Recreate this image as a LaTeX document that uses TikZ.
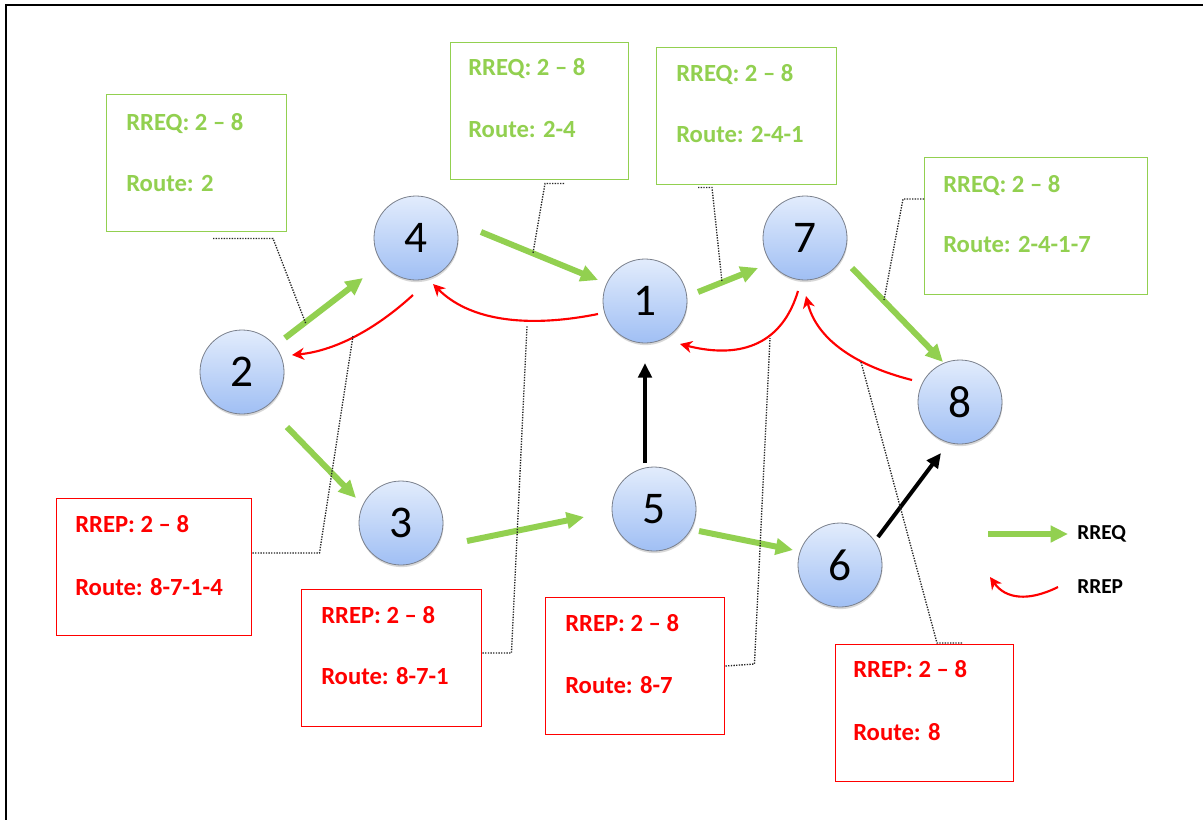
\documentclass[tikz,border=0pt]{standalone}
\usepackage{fontspec}
\setmainfont{Carlito}
\usetikzlibrary{arrows.meta,calc,shadows}
\definecolor{reqgreen}{HTML}{92D050}
\definecolor{repred}{HTML}{FF0000}
\definecolor{nodetop}{HTML}{E2ECFC}
\definecolor{nodebot}{HTML}{A0BFF4}
\definecolor{nodeedge}{HTML}{7A808C}
\tikzset{
  host/.style={circle, minimum size=63pt, inner sep=0pt, draw=nodeedge, line width=0.6pt,
    top color=nodetop, bottom color=nodebot, font=\fontsize{34}{34}\selectfont,
    drop shadow={shadow xshift=0.4pt, shadow yshift=-1.6pt, opacity=0.3}},
  msgbox/.style={line width=1.1pt, minimum height=102.75pt, anchor=north west, inner sep=0pt},
  reqbox/.style={msgbox, draw=reqgreen},
  repbox/.style={msgbox, draw=repred},
  boxtext/.style={anchor=base west, inner sep=0pt, font=\bfseries\fontsize{18.5}{18.5}\selectfont},
  reqtext/.style={boxtext, text=reqgreen},
  reptext/.style={boxtext, text=repred},
  req/.style={draw=reqgreen, line width=4.5pt, -{Triangle[length=13pt,width=12pt]}},
  push/.style={draw=black, line width=3pt, -{Triangle[length=11pt,width=10pt]}},
  rep/.style={draw=repred, line width=1.6pt, -{Stealth[length=9pt,width=9pt,inset=2.8pt]}},
  lead/.style={draw=black!85, line width=1pt, densely dotted},
  legtext/.style={anchor=west, inner sep=0pt, font=\bfseries\fontsize{16}{16}\selectfont},
}
\begin{document}
\begin{tikzpicture}[x=0.75pt,y=-0.75pt]
\useasboundingbox (0,0) rectangle (1203,819);
\fill[white] (0,0) rectangle (1203,819);

% frame
\draw[line width=2.2pt] (6,830) -- (6,5) -- (1210,5);

% hosts
\node[host] (n1) at (645,301) {1};
\node[host] (n2) at (242,372) {2};
\node[host] (n3) at (401,523) {3};
\node[host] (n4) at (416,238) {4};
\node[host] (n5) at (654,509) {5};
\node[host] (n6) at (840,565) {6};
\node[host] (n7) at (805,238) {7};
\node[host] (n8) at (960,402) {8};

% route request flooding
\draw[req] ($(n2)+(43,-34)$) -- ($(n4)+(-53,40)$);
\draw[req] ($(n4)+(65,-6)$) -- ($(n1)+(-47,-21)$);
\draw[req] ($(n1)+(53,-9)$) -- ($(n7)+(-47,30)$);
\draw[req] ($(n7)+(47,30)$) -- ($(n8)+(-17,-40)$);
\draw[req] ($(n2)+(45,55)$) -- ($(n3)+(-45,-25)$);
\draw[req] ($(n3)+(66,18)$) -- ($(n5)+(-70,8)$);
\draw[req] ($(n5)+(45,22)$) -- ($(n6)+(-47,-15)$);

% forwarding toward the destination
\draw[push] ($(n5)+(-9,-46)$) -- ($(n1)+(0,62)$);
\draw[push] ($(n6)+(38,-28)$) -- ($(n8)+(-19,51)$);

% route reply path
\draw[rep] ($(n4)+(-3,57)$) .. controls (373.7,331) and (333.3,351) .. ($(n2)+(50,-17)$);
\draw[rep] ($(n1)+(-47,13)$) .. controls (523,329) and (468,319) .. ($(n4)+(17,46)$);
\draw[rep] ($(n7)+(-7,53)$) .. controls (782.7,342.3) and (743.3,360) .. ($(n1)+(35,43)$);
\draw[rep] ($(n8)+(-48,-22)$) .. controls (851.3,364.7) and (816,336.7) .. ($(n7)+(1,58)$);

% request boxes
\node[reqbox, minimum width=135pt] (g1) at (106,94) {};
\node[reqtext] (g1a) at ($(g1.north west)+(20,36)$) {RREQ: 2 – 8};
\node[reqtext] (g1b) at ($(g1.north west)+(20,97)$) {Route: 2};

\node[reqbox, minimum width=133.5pt] (g2) at (450,42) {};
\node[reqtext] (g2a) at ($(g2.north west)+(18,33)$) {RREQ: 2 – 8};
\node[reqtext] (g2b) at ($(g2.north west)+(18,95)$) {Route: 2-4};

\node[reqbox, minimum width=135pt] (g3) at (656,47) {};
\node[reqtext] (g3a) at ($(g3.north west)+(20,34)$) {RREQ: 2 – 8};
\node[reqtext] (g3b) at ($(g3.north west)+(20,95)$) {Route: 2-4-1};

\node[reqbox, minimum width=167.25pt] (g4) at (924,157) {};
\node[reqtext] (g4a) at ($(g4.north west)+(19,35)$) {RREQ: 2 – 8};
\node[reqtext] (g4b) at ($(g4.north west)+(19,95)$) {Route: 2-4-1-7};

% reply boxes
\node[repbox, minimum width=146.25pt] (r1) at (56,498) {};
\node[reptext] (r1a) at ($(r1.north west)+(19,34)$) {RREP: 2 – 8};
\node[reptext] (r1b) at ($(r1.north west)+(19,97)$) {Route: 8-7-1-4};

\node[repbox, minimum width=135pt] (r2) at (301,589) {};
\node[reptext] (r2a) at ($(r2.north west)+(20,34)$) {RREP: 2 – 8};
\node[reptext] (r2b) at ($(r2.north west)+(20,95)$) {Route: 8-7-1};

\node[repbox, minimum width=134.25pt] (r3) at (545,597) {};
\node[reptext] (r3a) at ($(r3.north west)+(20,34)$) {RREP: 2 – 8};
\node[reptext] (r3b) at ($(r3.north west)+(20,96)$) {Route: 8-7};

\node[repbox, minimum width=133.5pt] (r4) at (835,644) {};
\node[reptext] (r4a) at ($(r4.north west)+(18,33)$) {RREP: 2 – 8};
\node[reptext] (r4b) at ($(r4.north west)+(18,96)$) {Route: 8};

% callout leaders
\coordinate (p1) at (306,324);
\coordinate (p2) at (353,336);
\coordinate (p3) at (533,253);
\coordinate (p4) at (527,326);
\coordinate (p5) at (722,282);
\coordinate (p6) at (770,338);
\coordinate (p7) at (884,300);
\coordinate (p8) at (861,362);
\draw[lead] ($(g1.south west)+(107,6)$) -- ++(60,0) -- (p1);
\draw[lead] ($(r1.north east)+(0,55)$) -- ++(67,0) -- (p2);
\draw[lead] ($(g2.south west)+(114,3)$) -- ++(-19,0) -- (p3);
\draw[lead] ($(r2.north east)+(0,64)$) -- ++(29,0) -- (p4);
\draw[lead] ($(g3.south west)+(42,2)$) -- ++(14,0) -- (p5);
\draw[lead] ($(r3.north east)+(0,69)$) -- ++(29,-2) -- (p6);
\draw[lead] ($(g4.north west)+(0,42)$) -- ++(-21,0) -- (p7);
\draw[lead] ($(r4.north west)+(127,-1)$) -- ++(-25,0) -- (p8);

% legend
\coordinate (la) at (988,534);
\coordinate (lb) at (1068,534);
\coordinate (lc) at (1058,587);
\coordinate (ld) at (990,577);
\draw[req, line width=4pt] (la) -- (lb);
\draw[rep] (lc) .. controls (1028,602) and (1005.3,598.7) .. (ld);
\node[legtext] (lreq) at (1077,534) {RREQ};
\node[legtext] (lrep) at (1077,587) {RREP};
\end{tikzpicture}
\end{document}
